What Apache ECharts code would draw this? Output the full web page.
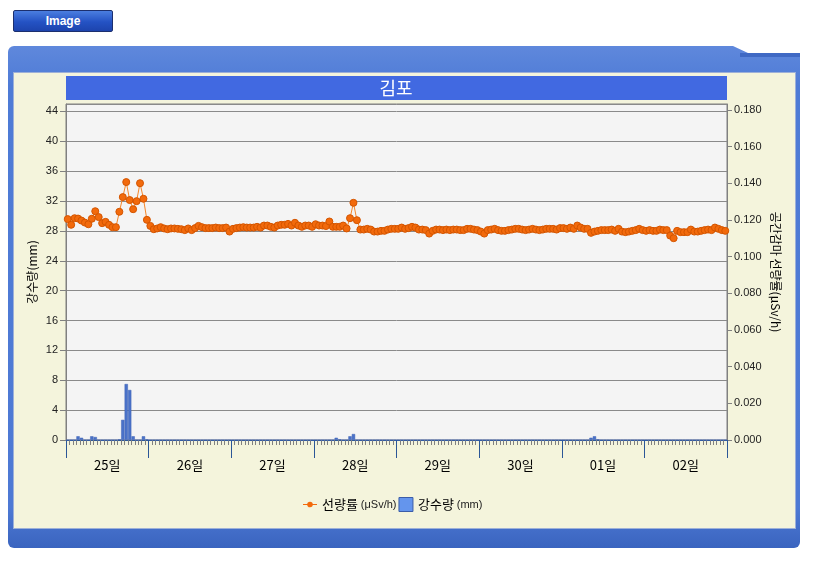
<!DOCTYPE html>
<html>
<head>
<meta charset="utf-8">
<script src="https://cdn.jsdelivr.net/npm/echarts@6/dist/echarts.min.js"></script>
<style>
  html, body { margin:0; padding:0; background:#fff; width:830px; height:570px; overflow:hidden; }
  #btn { position:absolute; left:13px; top:10px; width:98px; height:20px; border:1px solid #1c2f6e; border-radius:2px;
         background:linear-gradient(#4b7ee0, #2452c4 55%, #1d44ad); color:#fff; font:bold 12px "Liberation Sans", Arial, sans-serif;
         text-align:center; line-height:20px; }
  #panel { position:absolute; left:8px; top:46px; width:792px; height:502px; border-radius:6px;
           background:linear-gradient(#5f88dc, #4e7bd6 8%, #4d79d4 92%, #3a64bf);
           clip-path: polygon(0 0, 725px 0, 740px 7px, 100% 7px, 100% 100%, 0 100%); }
  #tab { position:absolute; left:740px; top:53px; width:60px; height:4px; background:#3f69c4; }
  #inner { position:absolute; left:13px; top:72px; width:781px; height:455px; background:#f4f4dc; border:1px solid #9db0d8; }
  #chart { position:absolute; left:0; top:0; width:830px; height:570px; }
</style>
</head>
<body>
<div id="btn">Image</div>
<div id="panel"></div>
<div id="tab"></div>
<div id="inner"></div>
<div id="chart"></div>
<script>
// ---- data ----
const days = ['25일', '26일', '27일', '28일', '29일', '30일', '01일', '02일'];
const leftTicks = { min: 0, max: 45, interval: 4 };
const rightTicks = { min: 0, max: 0.1833, interval: 0.02 };

// 공간감마 선량률 (μSv/h), hourly, one row per day
const doseRate = [
  .1205,.1174,.1210,.1208,.1197,.1186,.1177,.1207,.1248,.1216,.1183,.1190,.1174,.1161,.1161,.1245,.1325,.1407,.1309,.1259,.1303,.1401,.1316,.1201,
  .1168,.1150,.1154,.1161,.1154,.1150,.1154,.1154,.1152,.1150,.1145,.1154,.1145,.1156,.1168,.1161,.1156,.1156,.1156,.1159,.1156,.1156,.1159,.1137,
  .1152,.1156,.1159,.1161,.1159,.1159,.1159,.1163,.1159,.1170,.1170,.1163,.1159,.1170,.1174,.1174,.1179,.1170,.1185,.1170,.1163,.1170,.1170,.1163,
  .1177,.1170,.1170,.1167,.1192,.1163,.1163,.1163,.1170,.1154,.1210,.1294,.1199,.1148,.1148,.1152,.1148,.1137,.1137,.1141,.1141,.1148,.1152,.1152,
  .1152,.1159,.1152,.1156,.1163,.1159,.1148,.1148,.1145,.1126,.1141,.1148,.1148,.1145,.1148,.1145,.1148,.1148,.1145,.1145,.1152,.1152,.1148,.1145,
  .1137,.1126,.1145,.1148,.1152,.1145,.1141,.1141,.1145,.1148,.1152,.1152,.1148,.1145,.1148,.1152,.1148,.1145,.1148,.1152,.1152,.1152,.1148,.1156,
  .1156,.1152,.1159,.1152,.1170,.1159,.1152,.1152,.1130,.1137,.1141,.1145,.1145,.1145,.1148,.1141,.1152,.1137,.1134,.1137,.1141,.1145,.1152,.1145,
  .1141,.1145,.1141,.1141,.1148,.1145,.1145,.1115,.1101,.1141,.1134,.1134,.1134,.1148,.1137,.1137,.1141,.1145,.1148,.1145,.1159,.1152,.1145,.1141
];

// 강수량 (mm), hourly, one row per day
const rainfall = [
  0,0,0,0.5,0.3,0,0,0.5,0.4,0,0,0,0,0,0,0.1,2.7,7.5,6.7,0.5,0,0,0.5,0.1,
  0,0,0,0,0,0,0,0,0,0,0,0,0,0,0,0,0,0,0,0,0,0,0,0,
  0,0,0,0,0,0,0,0,0,0,0,0,0,0,0,0,0,0,0,0,0,0,0,0,
  0,0,0,0,0,0,0.3,0.1,0,0,0.5,0.8,0,0,0,0,0,0,0,0,0,0,0,0,
  0,0,0,0,0,0,0,0,0,0,0,0,0,0,0,0,0,0,0,0,0,0,0,0,
  0,0,0,0,0,0,0,0,0,0,0,0,0,0,0,0,0,0,0,0,0,0,0,0,
  0,0,0,0,0,0,0,0,0.3,0.5,0.1,0,0,0,0,0,0,0,0,0,0,0,0,0,
  0,0,0,0,0,0,0,0,0,0,0,0,0,0,0,0,0,0,0,0,0,0,0,0
];

// hourly category labels (day + hour)
const hours = [];
days.forEach(d => { for (let h = 0; h < 24; h++) hours.push(d + ' ' + h + '시'); });

const titleText = '김포';
const doseName = '선량률 (μSv/h)';
const rainName = '강수량 (mm)';

// ---- chart ----
const chart = echarts.init(document.getElementById('chart'), null, { renderer: 'canvas' });
const latin = '"Liberation Sans", Arial, "Noto Sans CJK KR", sans-serif';
const kor = '"Noto Sans CJK KR", "Liberation Sans", sans-serif';
const gray = '#808080';
const lineIcon = 'path://M0,5.4H14V6.6H0Z M7,3.2A2.8,2.8 0 1,1 6.99,3.2Z';

chart.setOption({
  animation: false,
  backgroundColor: 'transparent',
  title: {
    text: titleText, left: 396, top: 76, textAlign: 'center', padding: 0,
    textStyle: { color: '#fff', fontSize: 18, fontWeight: 'normal', fontFamily: kor, lineHeight: 24 }
  },
  graphic: [
    { type: 'rect', z: -1, shape: { x: 66, y: 76, width: 661, height: 24 }, style: { fill: '#4169e1' } }
  ],
  grid: {
    left: 66, right: 103, top: 104, bottom: 130, show: true,
    backgroundColor: '#f4f4f4', borderColor: gray, borderWidth: 1
  },
  legend: {
    left: 298, top: 492, itemWidth: 14, itemHeight: 14, itemGap: 2, symbolKeepAspect: true,
    textStyle: {
      fontFamily: kor, fontSize: 13, color: '#000',
      rich: { u: { fontFamily: latin, fontSize: 11, color: '#222' } }
    },
    formatter: n => { const p = n.indexOf(' ('); return n.slice(0, p) + ' {u|' + n.slice(p + 1) + '}'; },
    data: [
      { name: doseName, icon: lineIcon, itemStyle: { color: '#f26a0c', borderWidth: 0 } },
      { name: rainName, icon: 'rect', itemStyle: { color: '#6495ed', borderColor: '#3b5ca8', borderWidth: 1 } }
    ]
  },
  xAxis: [
    {
      type: 'category', data: hours, boundaryGap: true, position: 'bottom',
      axisLine: { lineStyle: { color: gray } },
      axisTick: { show: true, interval: 0, length: 5, lineStyle: { color: gray } },
      axisLabel: { show: false }, splitLine: { show: false }
    },
    {
      type: 'category', data: days, boundaryGap: true, position: 'bottom', offset: 12,
      axisLine: { lineStyle: { color: '#2b5797' } },
      axisTick: { show: true, interval: 0, length: 18, lineStyle: { color: '#2b5797' } },
      axisLabel: { margin: 7, fontSize: 13, color: '#000', fontFamily: kor },
      splitLine: { show: false }
    }
  ],
  yAxis: [
    {
      type: 'value', position: 'left', min: leftTicks.min, max: leftTicks.max, interval: leftTicks.interval,
      name: '강수량(mm)', nameLocation: 'middle', nameGap: 28, nameMoveOverlap: false,
      nameTextStyle: { fontFamily: kor, fontSize: 12, color: '#000' },
      axisLine: { show: true, lineStyle: { color: gray } },
      axisTick: { show: true, length: 6, lineStyle: { color: gray } },
      axisLabel: { showMaxLabel: false, fontSize: 11, color: '#222', fontFamily: latin, margin: 8 },
      splitLine: { show: true, lineStyle: { color: '#8a8a8a', width: 1 } }
    },
    {
      type: 'value', position: 'right', min: rightTicks.min, max: rightTicks.max, interval: rightTicks.interval,
      name: '공간감마 선량률(μSv/h)', nameLocation: 'middle', nameGap: 43, nameRotate: -90, nameMoveOverlap: false,
      nameTextStyle: { fontFamily: kor, fontSize: 12, color: '#000' },
      axisLine: { show: true, lineStyle: { color: gray } },
      axisTick: { show: true, length: 5, lineStyle: { color: gray } },
      axisLabel: { showMaxLabel: false, fontSize: 11, color: '#222', fontFamily: latin, margin: 7,
                   formatter: v => v.toFixed(3) },
      splitLine: { show: false }
    }
  ],
  series: [
    {
      name: rainName, type: 'bar', xAxisIndex: 0, yAxisIndex: 0, data: rainfall,
      barCategoryGap: '4%',
      itemStyle: { color: '#4a72c9', borderColor: '#3e63b5', borderWidth: 0.5 }
    },
    {
      name: doseName, type: 'line', xAxisIndex: 0, yAxisIndex: 1, data: doseRate,
      symbol: 'circle', symbolSize: 7, showAllSymbol: true,
      lineStyle: { color: '#f5862a', width: 1 },
      itemStyle: { color: '#f26a0c', borderColor: '#d45500', borderWidth: 1 },
      z: 3
    }
  ]
});
</script>
</body>
</html>
